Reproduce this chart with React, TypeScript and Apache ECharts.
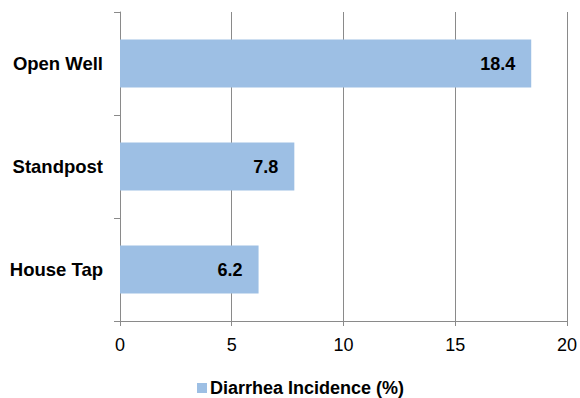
import React, { useEffect, useRef } from "react";
import * as echarts from "echarts";

const categories = ["House Tap", "Standpost", "Open Well"];
const values = [6.2, 7.8, 18.4];
const seriesName = "Diarrhea Incidence (%)";
const xMin = 0;
const xMax = 20;
const xInterval = 5;

export default function App() {
  const ref = useRef<HTMLDivElement>(null);
  useEffect(() => {
    document.body.style.margin = "0";
    const chart = echarts.init(ref.current!, null, { renderer: "svg" });
    const axisColor = "#8a8a8a";
    const ff = "Liberation Sans, Arial, sans-serif";
    chart.setOption({
      animation: false,
      textStyle: { fontFamily: ff },
      grid: { left: 120, right: 11, top: 12, bottom: 77, containLabel: false },
      legend: {
        data: [seriesName],
        top: 379,
        left: 197,
        padding: 0,
        icon: "rect",
        itemWidth: 10,
        itemHeight: 10,
        textStyle: { fontSize: 18, fontWeight: "bold", color: "#000", fontFamily: ff, padding: [0, 0, 0, -2] },
      },
      xAxis: {
        type: "value",
        min: xMin,
        max: xMax,
        interval: xInterval,
        axisLine: { show: true, lineStyle: { color: axisColor, width: 1 } },
        axisTick: { show: true, length: 5, lineStyle: { color: axisColor } },
        splitLine: { show: true, lineStyle: { color: axisColor, width: 1 } },
        axisLabel: { fontSize: 18, color: "#000", margin: 15, fontFamily: ff },
      },
      yAxis: {
        type: "category",
        data: categories,
        axisLine: { show: true, lineStyle: { color: axisColor, width: 1 } },
        axisTick: { show: true, length: 6, alignWithLabel: false, lineStyle: { color: axisColor } },
        axisLabel: { fontSize: 18.5, fontWeight: "bold", color: "#000", margin: 17, fontFamily: ff },
      },
      series: [
        {
          name: seriesName,
          type: "bar",
          data: values,
          barWidth: "46.5%",
          itemStyle: { color: "#9dbfe4" },
          label: {
            show: true,
            position: "insideRight",
            distance: 16,
            fontSize: 18,
            fontWeight: "bold",
            color: "#000",
            fontFamily: ff,
          },
        },
      ],
    });
    return () => chart.dispose();
  }, []);
  return <div ref={ref} style={{ width: 580, height: 398 }} />;
}
